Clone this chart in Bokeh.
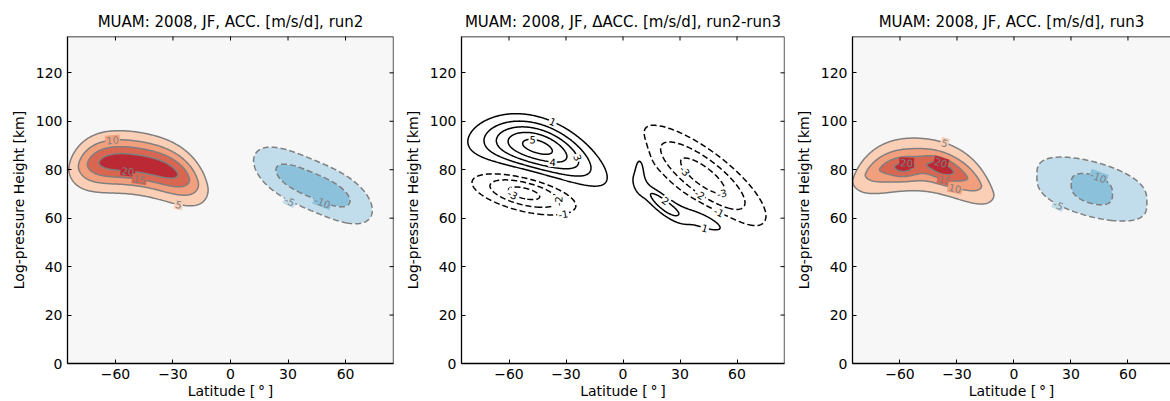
import numpy as np
from bokeh.plotting import figure
from bokeh.layouts import row
from bokeh.models import FixedTicker, Range1d, ColumnDataSource, Span
from bokeh.plotting.contour import contour_data
from bokeh.embed import file_html
from bokeh.resources import INLINE
from bokeh.core.properties import value

# ---------------- data ----------------
titles = ["MUAM: 2008, JF, ACC. [m/s/d], run2",
          "MUAM: 2008, JF, \u0394ACC. [m/s/d], run2-run3",
          "MUAM: 2008, JF, ACC. [m/s/d], run3"]
x_label = "Latitude [\u2009\u00b0\u2009]"
y_label = "Log-pressure Height [km]"
x_ticks = [-60, -30, 0, 30, 60]
y_ticks = [0, 20, 40, 60, 80, 100, 120]

lat = np.arange(-90.0, 90.25, 0.5)
hgt = np.arange(0.0, 135.25, 0.5)

# blob description of each field
run2_lat0 = [-48.0, 43.0]
run2_h0 = [82.5, 73.5]
run2_amp = [23.5, -12.5]
run2_sig_lat = [27.4, 25.3]
run2_sig_h = [6.8, 7.9]
run2_slope = [-0.12, -0.33]
run2_curv = [-0.005, 0.0]
run2_p_lat = [4.0, 3.0]
run2_p_h = [1.75, 2.0]

run3_lat0 = [-47.5, -58.0, -38.0, 41.0]
run3_h0 = [82.0, 80.0, 80.5, 72.0]
run3_amp = [18.0, 5.0, 5.5, -11.2]
run3_sig_lat = [29.6, 5.0, 5.5, 22.8]
run3_sig_h = [5.8, 2.6, 3.2, 9.8]
run3_slope = [-0.076, 0.0, -0.3, -0.19]
run3_curv = [-0.007, 0.0, 0.0, 0.0]
run3_p_lat = [4.0, 2.0, 2.0, 2.0]
run3_p_h = [1.5, 2.0, 2.0, 3.0]

diff_lat0 = [-45.0, -52.0, 42.0, 9.0, 20.0, 42.0]
diff_h0 = [89.5, 70.5, 77.5, 81.0, 66.5, 59.5]
diff_amp = [5.4, -3.4, -3.5, 1.5, 2.3, 1.8]
diff_sig_lat = [20.0, 18.0, 21.0, 2.8, 8.0, 12.5]
diff_sig_h = [6.8, 5.0, 8.0, 7.0, 3.0, 3.2]
diff_slope = [-0.2, -0.17, -0.5, 0.0, -0.6, -0.3]
diff_curv = [-0.004, 0.0, 0.0, 0.0, 0.0, 0.0]
diff_p_lat = [2.0, 2.0, 2.0, 2.0, 2.0, 2.0]
diff_p_h = [2.0, 2.0, 2.0, 2.0, 2.0, 2.0]

fill_levels = [-30, -25, -20, -15, -10, -5, 5, 10, 15, 20, 25, 30]
fill_colors = ["#114680", "#2a71b2", "#4a97c5", "#8cc1dc", "#c1ddeb", "#f7f7f7",
               "#fbceb6", "#f29f7e", "#d96651", "#bb2a34", "#860a24"]
run_neg_levels = [-30, -25, -20, -15, -10, -5]
run_pos_levels = [5, 10, 15, 20, 25, 30]
diff_neg_levels = [-5, -4, -3, -2, -1]
diff_pos_levels = [1, 2, 3, 4, 5, 6]

# ---------------- styling ----------------
FONT = "DejaVu Sans"
FRAME_W = 326
FRAME_H = 327
X0 = -85.0
Y1 = 135.0
GRAY = "#7f7f7f"

# where the inline contour labels go: (level, lat, height) hints
run2_label_hints = [(10, -61.6, 91.8), (20, -53.0, 82.0), (15, -47.0, 78.6), (5, -27.0, 66.5),
                    (-5, 30.0, 66.0), (-10, 47.8, 65.8)]
run3_label_hints = [(5, -36.5, 90.9), (20, -56.3, 83.3), (20, -38.0, 84.0), (15, -37.2, 73.6),
                    (10, -32.0, 69.5), (-10, 43.7, 75.7), (-5, 24.5, 66.7)]
diff_label_hints = [(1, -37.9, 98.0), (5, -47.8, 90.2), (4, -36.9, 83.3), (3, -27.0, 84.0),
                    (-3, -57.4, 70.2), (-1, -32.2, 65.0), (-2, -27.0, 67.4),
                    (-3, 28.5, 77.0), (-2, 43.3, 73.0), (-3, 52.0, 70.9), (-1, 52.9, 66.0),
                    (2, 24.2, 68.8), (1, 43.3, 56.4)]


def field(lat0s, h0s, amps, slats, shs, slopes, curvs, plats, phs):
    LAT, H = np.meshgrid(lat, hgt)
    Z = np.zeros_like(LAT)
    for a, b, A, sl, sh, s, c, pl, ph in zip(lat0s, h0s, amps, slats, shs, slopes, curvs, plats, phs):
        dx = LAT - a
        dy = H - (b + s * dx + c * dx ** 2)
        Z += A * np.exp(-0.5 * (np.abs(dx / sl) ** pl + np.abs(dy / sh) ** ph))
    return Z


def split_paths(xs, ys):
    try:
        a = np.asarray(xs, dtype=float).ravel()
        b = np.asarray(ys, dtype=float).ravel()
    except (ValueError, TypeError):
        res = []
        for u, v in zip(xs, ys):
            res += split_paths(u, v)
        return res
    res = []
    nan = np.isnan(a) | np.isnan(b)
    start = 0
    for i in list(np.where(nan)[0]) + [len(a)]:
        if i - start > 1:
            res.append((a[start:i], b[start:i]))
        start = i + 1
    return res


def add_labels(p, Z, hints, color, x1, bg_for_level):
    sx = FRAME_W / (x1 - X0)
    sy = FRAME_H / Y1
    levels = sorted(set(h[0] for h in hints))
    cd = contour_data(lat, hgt, Z, levels, want_fill=False, want_line=True)
    paths = {}
    for lev, xs, ys in zip(levels, cd.line_data.xs, cd.line_data.ys):
        paths[lev] = split_paths(xs, ys)
    lx, ly, lt, la, lb = [], [], [], [], []
    for lev, hx, hy in hints:
        best = None
        for px, py in paths.get(lev, []):
            if len(px) < 3:
                continue
            d = np.hypot((px - hx) * sx, (py - hy) * sy)
            i = int(np.argmin(d))
            if best is None or d[i] < best[0]:
                best = (d[i], px, py, i)
        if best is None:
            continue
        _, px, py, i = best
        i0, i1 = max(i - 2, 0), min(i + 2, len(px) - 1)
        ang = np.arctan2((py[i1] - py[i0]) * sy, (px[i1] - px[i0]) * sx)
        if ang > np.pi / 2:
            ang -= np.pi
        if ang < -np.pi / 2:
            ang += np.pi
        lx.append(px[i]); ly.append(py[i]); la.append(ang)
        lt.append(str(int(lev))); lb.append(bg_for_level(lev))
    src = ColumnDataSource(dict(x=lx, y=ly, text=lt, angle=la, bg=lb))
    p.text(x="x", y="y", text="text", angle="angle", source=src,
           text_font=value(FONT), text_font_size="10px", text_color=color,
           text_align="center", text_baseline="middle",
           background_fill_color="bg", padding=1)


def run_bg(lev):
    # fill colour of the band just inside the labelled contour
    if lev > 0:
        i = fill_levels.index(lev)
    else:
        i = fill_levels.index(lev) - 1
    return fill_colors[max(0, min(i, len(fill_colors) - 1))]


def style_axis(ax):
    ax.axis_line_color = "black"
    ax.axis_line_width = 1.3
    ax.major_tick_line_color = "black"
    ax.major_tick_line_width = 1
    ax.major_tick_in = 4
    ax.major_tick_out = 0
    ax.minor_tick_line_color = None
    ax.major_label_text_font = FONT
    ax.major_label_text_color = "black"
    ax.major_label_text_font_size = "14px"
    ax.axis_label_text_font = FONT
    ax.axis_label_text_font_size = "14px"
    ax.axis_label_text_font_style = "normal"
    ax.axis_label_text_color = "black"


def make_fig(title, width, min_left, min_right, x1, bg):
    p = figure(width=width, height=401, x_range=Range1d(X0, x1), y_range=Range1d(0, Y1),
               output_backend="svg", toolbar_location=None, title=title,
               min_border_left=min_left, min_border_right=min_right,
               min_border_top=36, min_border_bottom=38,
               background_fill_color=bg, border_fill_color="white", outline_line_color=None)
    p.grid.visible = False
    p.title.align = "center"
    p.title.text_font = FONT
    p.title.text_font_size = "15px"
    p.title.text_font_style = "normal"
    p.title.text_color = "black"
    p.title.standoff = 12
    p.xaxis.ticker = FixedTicker(ticks=x_ticks)
    p.yaxis.ticker = FixedTicker(ticks=y_ticks)
    p.xaxis.major_label_overrides = {t: str(t).replace("-", "\u2212") for t in x_ticks}
    p.xaxis.axis_label = x_label
    p.yaxis.axis_label = y_label
    style_axis(p.xaxis[0])
    style_axis(p.yaxis[0])
    p.xaxis.major_label_standoff = 5
    p.xaxis.axis_label_standoff = 1
    p.yaxis.major_label_standoff = 5
    p.yaxis.axis_label_standoff = 6
    return p


def add_frame_ticks(p, x1, right_side=True):
    # top spine and inward ticks
    p.add_layout(Span(location=Y1, dimension="width", line_color="black", line_width=1.3))
    p.scatter(x=x_ticks, y=[Y1] * len(x_ticks), marker="dash", size=8, angle=np.pi / 2,
              line_color="black", line_width=1)
    if right_side:
        p.add_layout(Span(location=x1, dimension="height", line_color="black", line_width=1.3))
        p.scatter(x=[x1] * len(y_ticks), y=y_ticks, marker="dash", size=8,
                  line_color="black", line_width=1)


# panel 1: run2
z2 = field(run2_lat0, run2_h0, run2_amp, run2_sig_lat, run2_sig_h, run2_slope, run2_curv, run2_p_lat, run2_p_h)
p1 = make_fig(titles[0], 401, 67, 8, 85.0, "#f7f7f7")
p1.contour(lat, hgt, z2, levels=fill_levels, fill_color=fill_colors)
p1.contour(lat, hgt, z2, levels=run_pos_levels, line_color=GRAY, line_width=1.5)
p1.contour(lat, hgt, z2, levels=run_neg_levels, line_color=GRAY, line_width=1.5, line_dash="6 3")
add_labels(p1, z2, run2_label_hints, GRAY, 85.0, run_bg)
add_frame_ticks(p1, 85.0)

# panel 2: difference
zd = field(diff_lat0, diff_h0, diff_amp, diff_sig_lat, diff_sig_h, diff_slope, diff_curv, diff_p_lat, diff_p_h)
p2 = make_fig(titles[1], 391, 57, 8, 85.0, "white")
p2.contour(lat, hgt, zd, levels=diff_pos_levels, line_color="black", line_width=1.5)
p2.contour(lat, hgt, zd, levels=diff_neg_levels, line_color="black", line_width=1.5, line_dash="6 3")
add_labels(p2, zd, diff_label_hints, "black", 85.0, lambda lev: "white")
add_frame_ticks(p2, 85.0)

# panel 3: run3
x1_3 = X0 + 321 * 170.0 / FRAME_W
z3 = field(run3_lat0, run3_h0, run3_amp, run3_sig_lat, run3_sig_h, run3_slope, run3_curv, run3_p_lat, run3_p_h)
p3 = make_fig(titles[2], 378, 57, 0, x1_3, "#f7f7f7")
p3.contour(lat, hgt, z3, levels=fill_levels, fill_color=fill_colors)
p3.contour(lat, hgt, z3, levels=run_pos_levels, line_color=GRAY, line_width=1.5)
p3.contour(lat, hgt, z3, levels=run_neg_levels, line_color=GRAY, line_width=1.5, line_dash="6 3")
add_labels(p3, z3, run3_label_hints, GRAY, x1_3, run_bg)
add_frame_ticks(p3, x1_3, right_side=False)

layout = row(p1, p2, p3)
open("out.html", "w").write(file_html(layout, INLINE))
